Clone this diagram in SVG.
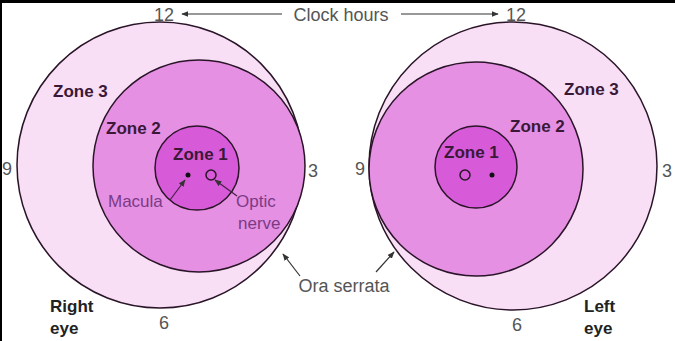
<svg xmlns="http://www.w3.org/2000/svg" width="675" height="341" viewBox="0 0 675 341">
<style>
text{font-family:"Liberation Sans",Arial,sans-serif;}
.lbl{font-size:18px;fill:#555;}
.zone{font-size:17px;font-weight:bold;fill:#3a1838;}
.plbl{font-size:17px;fill:#7b3a86;}
.c{stroke:#2a1428;stroke-width:1.5;}
.z3{fill:#f8dff5;}
.z2{fill:#e590e2;}
.z1{fill:#d75bd8;}
.ln{stroke:#333;stroke-width:1.2;fill:none;}
.lp{stroke:#4a1f4a;stroke-width:1.2;fill:none;}
</style>
<defs>
<marker id="ah" viewBox="0 0 10 10" refX="9" refY="5" markerWidth="6" markerHeight="6" orient="auto-start-reverse">
<path d="M0,1 L10,5 L0,9 z" fill="#333"/>
</marker>
</defs>
<rect width="675" height="341" fill="#fff"/>
<rect x="0" y="0" width="675" height="3" fill="#000"/>
<rect x="0" y="0" width="2" height="341" fill="#000"/>

<g id="right-eye">
<circle class="c z3" cx="160" cy="165" r="143"/>
<circle class="c z2" cx="199" cy="166" r="106"/>
<circle class="c z1" cx="197" cy="168" r="42"/>
<circle cx="188" cy="175" r="2.5" fill="#111"/>
<circle cx="211" cy="175" r="5" fill="none" stroke="#2a1428" stroke-width="1.5"/>
<text class="zone" x="53" y="97">Zone 3</text>
<text class="zone" x="106" y="134">Zone 2</text>
<text class="zone" x="173" y="160">Zone 1</text>
<text class="plbl" x="108" y="207">Macula</text>
<text class="plbl" x="236" y="207">Optic</text>
<text class="plbl" x="238" y="229">nerve</text>
<text class="lbl" x="164" y="21" text-anchor="middle">12</text>
<text class="lbl" x="2" y="175">9</text>
<text class="lbl" x="308" y="177">3</text>
<text class="lbl" x="164" y="329" text-anchor="middle">6</text>
<text class="zone" x="50" y="312" style="fill:#222">Right</text>
<text class="zone" x="50" y="334" style="fill:#222">eye</text>
</g>

<g id="left-eye">
<circle class="c z3" cx="513" cy="166" r="144"/>
<circle class="c z2" cx="476" cy="169" r="107"/>
<circle class="c z1" cx="476" cy="167" r="41"/>
<circle cx="492" cy="175" r="2.5" fill="#111"/>
<circle cx="465" cy="175" r="5" fill="none" stroke="#2a1428" stroke-width="1.5"/>
<text class="zone" x="564" y="95">Zone 3</text>
<text class="zone" x="510" y="132">Zone 2</text>
<text class="zone" x="444" y="158">Zone 1</text>
<text class="lbl" x="516" y="21" text-anchor="middle">12</text>
<text class="lbl" x="355" y="175">9</text>
<text class="lbl" x="662" y="177">3</text>
<text class="lbl" x="517" y="331" text-anchor="middle">6</text>
<text class="zone" x="584" y="312" style="fill:#222">Left</text>
<text class="zone" x="584" y="334" style="fill:#222">eye</text>
</g>

<g id="clock-hours">
<text class="lbl" x="341" y="21" text-anchor="middle">Clock hours</text>
</g>
<g id="ora-serrata">
<text class="lbl" x="344" y="292" text-anchor="middle">Ora serrata</text>
</g>

<g id="connectors">
<line class="ln" x1="282" y1="14" x2="182" y2="14" marker-end="url(#ah)"/>
<line class="ln" x1="401" y1="14" x2="498" y2="14" marker-end="url(#ah)"/>
<line class="lp" x1="170" y1="200" x2="185" y2="180" marker-end="url(#ah)"/>
<line class="lp" x1="237" y1="196" x2="215" y2="180" marker-end="url(#ah)"/>
<line class="ln" x1="300" y1="276" x2="283" y2="254" marker-end="url(#ah)"/>
<line class="ln" x1="376" y1="272" x2="394" y2="252" marker-end="url(#ah)"/>
</g>
</svg>
